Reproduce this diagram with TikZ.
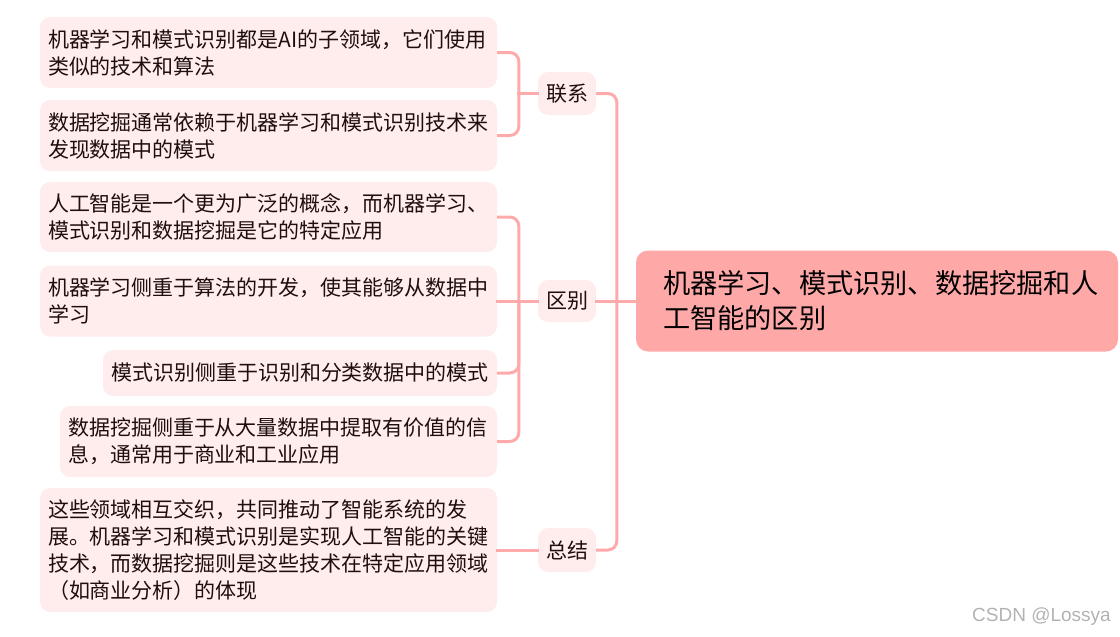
\documentclass[tikz,border=0pt]{standalone}
\usepackage{fontspec}
\setmainfont{Noto Sans CJK SC}
\newfontfamily\wmfont{Liberation Sans}
\definecolor{conn}{HTML}{FFAAAA}
\definecolor{leaffill}{HTML}{FFEDED}
\definecolor{rootfill}{HTML}{FFA8A8}
\definecolor{txt}{HTML}{1E0E0E}
\tikzset{
  leafbox/.style={draw=none, fill=leaffill, rounded corners=10pt, inner xsep=8pt, inner ysep=0pt,
    align=left, text=txt, font=\fontsize{21}{27}\selectfont, anchor=center},
  catbox/.style={draw=none, fill=leaffill, rounded corners=10pt, inner sep=0pt,
    minimum width=58pt, text=txt, font=\fontsize{21}{24}\selectfont},
  rootbox/.style={draw=none, fill=rootfill, rounded corners=12pt, inner xsep=27pt, inner ysep=0pt,
    align=left, text=black, font=\fontsize{27.2}{35}\selectfont},
  link/.style={draw=conn, line width=3pt, rounded corners=9pt},
  stub/.style={draw=conn, line width=3pt, line cap=rect}
}
\begin{document}
\begin{tikzpicture}[x=1pt,y=-1pt]
\useasboundingbox (0,0) rectangle (1120,637);
% leaves
\node[leafbox, text width=441pt, minimum height=71pt] (l1) at (268.5,52.5)
  {机器学习和模式识别都是AI的子领域，它们使用\\类似的技术和算法};
\node[leafbox, text width=441pt, minimum height=71pt] (l2) at (268.5,135.5)
  {数据挖掘通常依赖于机器学习和模式识别技术来\\发现数据中的模式};
\node[leafbox, text width=441pt, minimum height=70pt] (l3) at (268.5,217)
  {人工智能是一个更为广泛的概念，而机器学习、\\模式识别和数据挖掘是它的特定应用};
\node[leafbox, text width=441pt, minimum height=71pt] (l4) at (268.5,301)
  {机器学习侧重于算法的开发，使其能够从数据中\\学习};
\node[leafbox, text width=378pt, minimum height=46pt] (l5) at (300,373)
  {模式识别侧重于识别和分类数据中的模式};
\node[leafbox, text width=421pt, minimum height=71pt] (l6) at (278.5,441.5)
  {数据挖掘侧重于从大量数据中提取有价值的信\\息，通常用于商业和工业应用};
\node[leafbox, text width=441pt, minimum height=124pt] (l7) at (268.5,550)
  {这些领域相互交织，共同推动了智能系统的发\\展。机器学习和模式识别是实现人工智能的关键\\技术，而数据挖掘则是这些技术在特定应用领域\\（如商业分析）的体现};
% categories
\node[catbox, minimum height=43pt] (c1) at (567,93.5) {联系};
\node[catbox, minimum height=42pt] (c2) at (567,301) {区别};
\node[catbox, minimum height=44pt] (c3) at (567,550) {总结};
% root
\node[rootbox, text width=428pt, minimum height=101pt] (root) at (877,301)
  {机器学习、模式识别、数据挖掘和人\\工智能的区别};
% junction points
\coordinate (j1) at ([xshift=-19pt]c1.west);
\coordinate (j2) at ([xshift=-19pt]c2.west);
\coordinate (j3) at ([xshift=-19pt]c3.west);
\coordinate (jr) at ([xshift=-19pt]root.west);
% connectors
\foreach \c/\j in {c1/j1, c2/j2, c3/j3}
  \draw[stub] (\c.west) -- (\j);
\foreach \j/\l in {j1/l1, j1/l2, j2/l3, j2/l5, j2/l6}
  \draw[link] (\j) |- (\l.east);
\draw[stub] (j2) -- (l4.east);
\draw[stub] (j3) -- (l7.east);
\draw[stub] (root.west) -- (jr);
\draw[link] (jr) |- (c1.east);
\draw[link] (jr) |- (c3.east);
\draw[stub] (jr) -- (c2.east);
% watermark
\node[anchor=east, text=black!30, font=\wmfont\fontsize{19}{21}\selectfont, inner sep=0pt] (wm) at (1111,617) {CSDN @Lossya};
\end{tikzpicture}
\end{document}
